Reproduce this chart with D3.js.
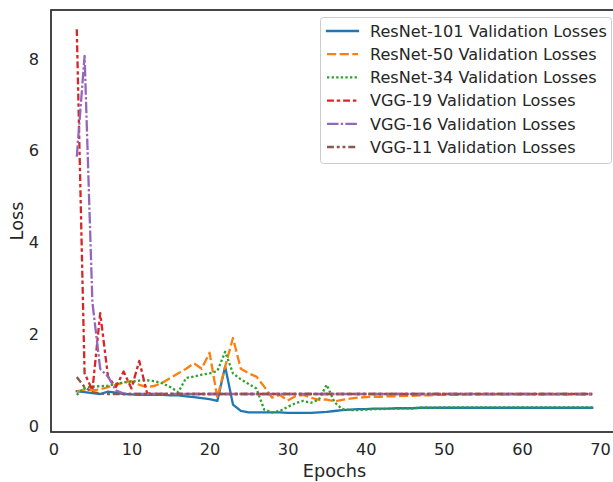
<!DOCTYPE html>
<html><head><meta charset="utf-8">
<script src="https://cdn.jsdelivr.net/npm/d3@7/dist/d3.min.js"></script>
<style>
body{margin:0;background:#fff}
text{font-family:"DejaVu Sans",sans-serif;fill:#262626}
</style>
</head><body>
<svg id="chart" width="613" height="482"></svg>
<script>
// ---- data ----
const epochs = [3,4,5,6,7,8,9,10,11,12,13,14,15,16,17,18,19,20,21,22,23,24,25,26,27,28,29,30,31,32,33,34,35,36,37,38,39,40,41,42,43,44,45,46,47,48,49,50,51,52,53,54,55,56,57,58,59,60,61,62,63,64,65,66,67,68,69];

const resnet101 = [0.76,0.74,0.72,0.70,0.75,0.73,0.70,0.69,0.68,0.68,
  0.68,0.68,0.67,0.67,0.65,0.63,0.61,0.59,0.55,1.30,
  0.47,0.33,0.30,0.30,0.30,0.30,0.30,0.29,0.29,0.29,
  0.29,0.30,0.31,0.33,0.35,0.36,0.37,0.37,0.38,0.38,
  0.38,0.39,0.39,0.39,0.40,0.40,0.40,0.40,0.40,0.40,
  0.40,0.40,0.40,0.40,0.40,0.40,0.40,0.40,0.40,0.40,
  0.40,0.40,0.40,0.40,0.40,0.40,0.40];
const resnet50 = [0.75,0.80,0.78,0.80,0.85,0.90,0.95,0.98,0.90,0.85,
  0.88,0.95,1.05,1.15,1.25,1.37,1.25,1.60,0.62,1.30,
  1.92,1.25,1.15,1.08,0.86,0.62,0.68,0.56,0.65,0.68,
  0.62,0.57,0.58,0.54,0.57,0.60,0.62,0.63,0.64,0.64,
  0.65,0.65,0.66,0.66,0.67,0.67,0.68,0.68,0.68,0.68,
  0.69,0.69,0.69,0.69,0.69,0.69,0.69,0.69,0.69,0.69,
  0.69,0.69,0.69,0.69,0.69,0.69,0.69];
const resnet34 = [0.68,0.83,0.86,0.87,0.88,0.92,0.95,0.97,0.99,1.00,
  0.98,0.93,0.85,0.74,1.05,1.08,1.12,1.15,1.20,1.62,
  1.15,1.02,0.92,0.82,0.36,0.30,0.33,0.42,0.50,0.55,
  0.51,0.58,0.90,0.52,0.37,0.35,0.35,0.36,0.37,0.37,
  0.38,0.38,0.39,0.39,0.40,0.40,0.40,0.41,0.41,0.41,
  0.41,0.41,0.41,0.41,0.41,0.41,0.41,0.41,0.41,0.41,
  0.41,0.41,0.41,0.41,0.41,0.41,0.41];
const vgg19 = [8.65,1.15,0.78,2.46,1.08,0.85,1.19,0.82,1.42,0.72,
  0.70,0.70,0.70,0.70,0.70,0.70,0.70,0.70,0.70,0.70,
  0.70,0.70,0.70,0.70,0.70,0.70,0.70,0.70,0.70,0.70,
  0.70,0.70,0.70,0.70,0.70,0.70,0.70,0.70,0.70,0.70,
  0.70,0.70,0.70,0.70,0.70,0.70,0.70,0.70,0.70,0.70,
  0.70,0.70,0.70,0.70,0.70,0.70,0.70,0.70,0.70,0.70,
  0.70,0.70,0.70,0.70,0.70,0.70,0.70];
const vgg16 = [5.87,8.07,2.70,1.25,1.08,0.78,0.71,0.70,0.70,0.70,
  0.70,0.70,0.70,0.70,0.70,0.70,0.70,0.70,0.70,0.70,
  0.70,0.70,0.70,0.70,0.70,0.70,0.70,0.70,0.70,0.70,
  0.70,0.70,0.70,0.70,0.70,0.70,0.70,0.70,0.70,0.70,
  0.70,0.70,0.70,0.70,0.70,0.70,0.70,0.70,0.70,0.70,
  0.70,0.70,0.70,0.70,0.70,0.70,0.70,0.70,0.70,0.70,
  0.70,0.70,0.70,0.70,0.70,0.70,0.70];
const vgg11 = [1.07,0.85,0.74,0.71,0.70,0.70,0.70,0.70,0.70,0.70,
  0.70,0.70,0.70,0.70,0.70,0.70,0.70,0.70,0.70,0.70,
  0.70,0.70,0.70,0.70,0.70,0.70,0.70,0.70,0.70,0.70,
  0.70,0.70,0.70,0.70,0.70,0.70,0.70,0.70,0.70,0.70,
  0.70,0.70,0.70,0.70,0.70,0.70,0.70,0.70,0.70,0.70,
  0.70,0.70,0.70,0.70,0.70,0.70,0.70,0.70,0.70,0.70,
  0.70,0.70,0.70,0.70,0.70,0.70,0.70];

const seriesNames = ["ResNet-101 Validation Losses","ResNet-50 Validation Losses","ResNet-34 Validation Losses","VGG-19 Validation Losses","VGG-16 Validation Losses","VGG-11 Validation Losses"];
const seriesValues = [resnet101, resnet50, resnet34, vgg19, vgg16, vgg11];
const xTicks = [0,10,20,30,40,50,60,70];
const yTicks = [0,2,4,6,8];
const xLabel = "Epochs";
const yLabel = "Loss";

// ---- styles ----
const colors = ["#1f77b4","#ff7f0e","#2ca02c","#d62728","#9467bd","#8c564b"];
const lw = 2.3;
const dashUnits = [null,[4,1.5],[1,1],[3,1.25,1.5,1.25],[5,1,1,1],[3,1.25,1.25,1.25,1.25,1.25]];
const dashes = dashUnits.map(d => d ? d.map(v => (v*lw).toFixed(2)).join(",") : null);
const tickFont = 16.2, labelFont = 17.7, legendFont = 16.1;

const L = 51, R = 618, T = 10, B = 432;
const svg = d3.select("#chart");

const allX = epochs, allY = seriesValues.flat();
const xMin = d3.min(allX), xMax = d3.max(allX);
const yMin = d3.min(allY), yMax = d3.max(allY);
const xm = (xMax - xMin)*0.05, ym = (yMax - yMin)*0.05;
const x = d3.scaleLinear().domain([xMin - xm, xMax + xm]).range([L, R]);
const y = d3.scaleLinear().domain([yMin - ym, yMax + ym]).range([B, T]);

// lines
const line = d3.line().x(d => x(d[0])).y(d => y(d[1]));
seriesValues.forEach((vals, i) => {
  const p = svg.append("path")
    .datum(epochs.map((e, j) => [e, vals[j]]))
    .attr("d", line)
    .attr("fill", "none")
    .attr("stroke", colors[i])
    .attr("stroke-width", lw)
    .attr("stroke-linejoin", "round")
    .attr("stroke-linecap", dashes[i] ? "butt" : "square");
  if (dashes[i]) p.attr("stroke-dasharray", dashes[i]);
});

// axes (no tick marks)
const xAxis = svg.append("g").attr("transform", `translate(0,${B})`)
  .call(d3.axisBottom(x).tickValues(xTicks).tickSize(0).tickPadding(11).tickFormat(d3.format("d")));
const yAxis = svg.append("g").attr("transform", `translate(${L},0)`)
  .call(d3.axisLeft(y).tickValues(yTicks).tickSize(0).tickPadding(12).tickFormat(d3.format("d")));
[xAxis, yAxis].forEach(g => {
  g.select(".domain").remove();
  g.selectAll("text").attr("font-family", "DejaVu Sans").attr("font-size", tickFont).attr("fill", "#262626");
});

// spines
svg.append("rect").attr("x", L).attr("y", T).attr("width", R - L).attr("height", B - T)
  .attr("fill", "none").attr("stroke", "#262626").attr("stroke-width", 1.7);

// axis labels
svg.append("text").attr("x", (L + R)/2).attr("y", 477).attr("text-anchor", "middle")
  .attr("font-size", labelFont).text(xLabel);
svg.append("text").attr("transform", `translate(23,${(T + B)/2}) rotate(-90)`).attr("text-anchor", "middle")
  .attr("font-size", labelFont).text(yLabel);

// legend
const lg = svg.append("g");
lg.append("rect").attr("x", 320.5).attr("y", 17.5).attr("width", 291).attr("height", 146).attr("rx", 3)
  .attr("fill", "#fff").attr("fill-opacity", 0.8).attr("stroke", "#cccccc").attr("stroke-width", 1);
seriesNames.forEach((name, i) => {
  const cy = 31 + i*23.2;
  const h = lg.append("line").attr("x1", 327).attr("x2", 358).attr("y1", cy).attr("y2", cy)
    .attr("stroke", colors[i]).attr("stroke-width", lw).attr("stroke-linecap", dashes[i] ? "butt" : "square");
  if (dashes[i]) h.attr("stroke-dasharray", dashes[i]);
  lg.append("text").attr("x", 370).attr("y", cy).attr("dy", "0.36em").attr("font-size", legendFont).text(name);
});
</script>
</body></html>
